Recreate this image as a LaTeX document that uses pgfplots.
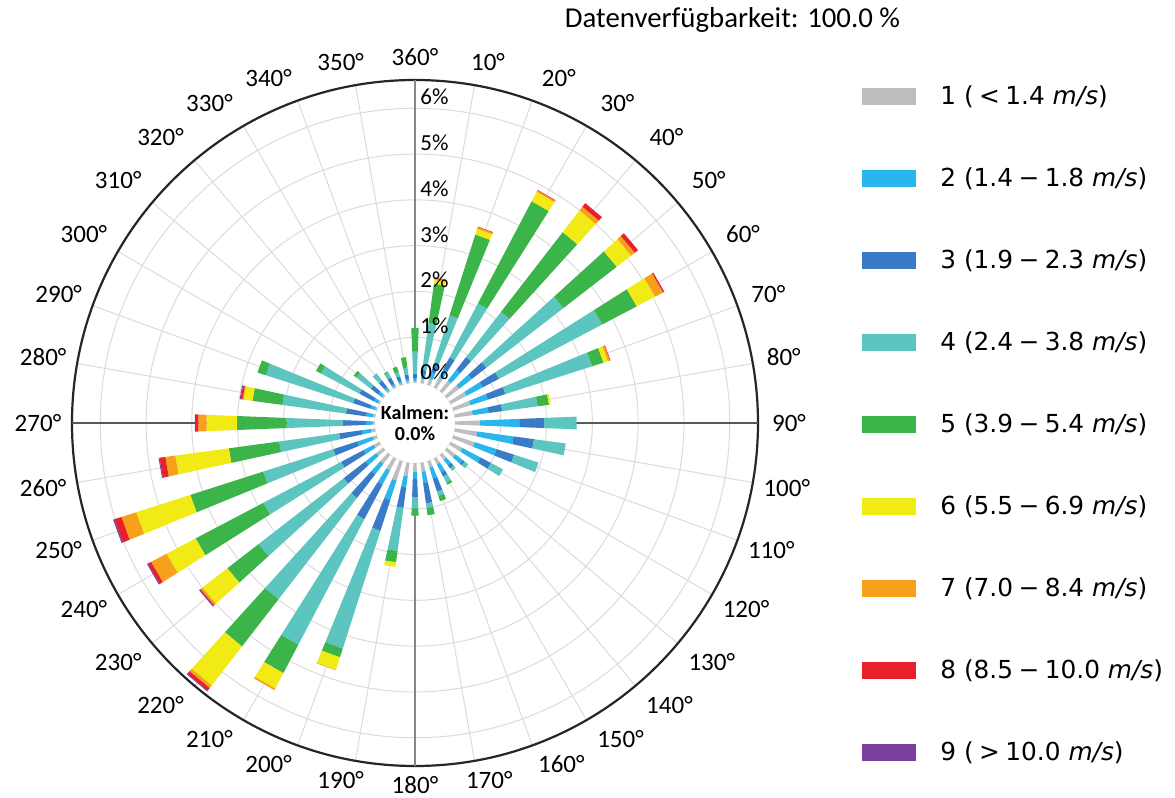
\documentclass[border=0pt]{standalone}
\usepackage{fontspec}
\setmainfont{Carlito}
\newfontfamily\legfont{DejaVu Sans}
\usepackage{pgfplots}
\usepackage{pgfplotstable}
\pgfplotsset{compat=1.18}
\usepgfplotslibrary{polar}

\definecolor{wc1}{HTML}{BEBEBE}
\definecolor{wc2}{HTML}{29B6EC}
\definecolor{wc3}{HTML}{3A7BC8}
\definecolor{wc4}{HTML}{5CC5BF}
\definecolor{wc5}{HTML}{3BB54A}
\definecolor{wc6}{HTML}{F2EA15}
\definecolor{wc7}{HTML}{F7A11A}
\definecolor{wc8}{HTML}{E8202A}
\definecolor{wc9}{HTML}{7B3F9E}

% frequency (%) per direction and speed class
\pgfplotstableread{
dir s1 s2 s3 s4 s5 s6 s7 s8 s9
10 0.10 0.10 0.10 1.04 0.86 0.08 0.04 0.01 0
20 0.15 0.15 0.20 1.10 1.85 0.13 0.04 0.01 0
30 0.25 0.20 0.30 1.33 2.52 0.23 0.04 0.01 0
40 0.30 0.30 0.35 1.25 2.20 0.60 0.10 0.10 0
50 0.35 0.35 0.40 2.13 1.47 0.40 0.10 0.09 0
60 0.40 0.40 0.40 2.55 0.85 0.45 0.20 0.03 0
70 0.40 0.40 0.40 1.99 0.26 0.10 0.05 0.01 0
80 0.40 0.35 0.30 0.78 0.25 0.04 0 0 0
90 0.55 0.87 0.53 0.71 0 0 0 0 0
100 0.50 0.80 0.45 0.70 0 0 0 0 0
110 0.50 0.50 0.40 0.56 0 0 0 0 0
120 0.30 0.45 0.25 0.30 0 0 0 0 0
130 0.25 0.20 0.05 0.10 0 0 0 0 0
140 0.15 0.15 0.08 0.07 0 0 0 0 0
150 0.15 0.20 0.10 0.15 0.05 0 0 0 0
160 0.15 0.25 0.30 0.10 0.12 0 0 0 0
170 0.20 0.25 0.45 0.10 0.16 0 0 0 0
180 0.20 0.15 0.40 0.25 0.15 0 0 0 0
190 0.30 0.25 0.45 0.95 0.25 0.10 0 0 0
200 0.45 0.45 0.70 2.70 0.20 0.29 0.01 0 0
210 0.30 0.35 0.85 3.10 0.70 0.38 0.04 0 0
220 0.25 0.30 0.65 2.80 1.30 1.08 0.07 0.07 0.02
230 0.20 0.30 0.60 2.35 0.86 0.69 0.05 0.02 0.02
240 0.15 0.25 0.55 1.92 1.67 0.72 0.38 0.08 0.02
250 0.10 0.35 0.55 1.61 1.67 1.24 0.34 0.16 0.03
260 0.10 0.20 0.50 1.32 1.11 1.18 0.22 0.13 0.02
270 0.05 0.15 0.50 1.23 1.09 0.66 0.18 0.07 0.01
280 0.05 0.15 0.45 1.40 0.66 0.19 0.03 0.04 0.02
290 0.05 0.10 0.40 2.00 0.19 0 0 0 0
300 0.05 0.10 0.35 0.95 0.12 0 0 0 0
310 0.05 0.10 0.20 0.40 0.07 0 0 0 0
320 0.05 0.07 0.18 0.20 0 0 0 0 0
330 0.05 0.05 0.15 0.13 0.02 0 0 0 0
340 0.05 0.05 0.10 0.10 0.12 0 0 0 0
350 0.05 0.05 0.10 0.15 0.23 0 0 0 0
360 0.05 0.05 0.10 0.50 0.50 0 0 0 0
}\windtable

\def\hole{0.873}
\def\halfw{2.25}
\newcommand\msp{\hspace{0.22em}}

\begin{document}
\begin{tikzpicture}
\begin{polaraxis}[
  at={(0,0)}, anchor=origin,
  scale only axis, width=343pt, height=343pt,
  xmin=0, xmax=360, ymin=0, ymax=7.49,
  xtick={0,10,...,350},
  xticklabels={90°,80°,70°,60°,50°,40°,30°,20°,10°,360°,350°,340°,330°,320°,310°,300°,290°,280°,270°,260°,250°,240°,230°,220°,210°,200°,190°,180°,170°,160°,150°,140°,130°,120°,110°,100°},
  ytick={0.873,1.873,2.873,3.873,4.873,5.873,6.873},
  yticklabels={},
  grid=major,
  major grid style={draw=black!14, line width=0.5pt},
  axis line style={draw=black!85, line width=1.1pt},
  tick style={draw=none},
  xticklabel style={font=\fontsize{12.5}{15}\selectfont, inner sep=0pt, anchor=center,
    xshift={max(-1,min(1,2.5*cos(\tick)))*((\tick<85)?15.5:17)*1pt},
    yshift={max(-1,min(1,1.5*sin(\tick)))*((sin(\tick)>0)?11.5:9.6)*1pt}},
  legend image code/.code={\fill[#1] (0pt,-4.25pt) rectangle (27pt,4.25pt);},
  legend style={draw=none, fill=none, at={(axis description cs:1.1516,0.9987)}, anchor=north west,
    font=\legfont\fontsize{12.4}{14}\selectfont, row sep=26.1pt, inner sep=0pt,
    /tikz/every odd column/.append style={column sep=10pt}},
  legend cell align=left,
]
% cross lines
\addplot[draw=gray!95, line width=0.9pt, forget plot] coordinates {(90,7.49) (270,7.49)};
\addplot[draw=black!65, line width=0.9pt, forget plot] coordinates {(0,7.49) (180,7.49)};

% stacked wedge bars
\foreach \r in {0,...,35}{%
  \pgfplotstablegetelem{\r}{dir}\of\windtable
  \pgfmathsetmacro\wa{90-\pgfplotsretval-\halfw}%
  \pgfmathsetmacro\wb{90-\pgfplotsretval+\halfw}%
  \xdef\wlo{\hole}%
  \foreach \k in {1,...,9}{%
    \pgfplotstablegetelem{\r}{s\k}\of\windtable
    \let\wv\pgfplotsretval
    \ifdim\wv pt>0pt
      \pgfmathsetmacro\whi{\wlo+\wv}%
      \edef\tmp{\noexpand\addplot[draw=none, fill=wc\k, forget plot] coordinates {(\wa,\wlo) (\wb,\wlo) (\wb,\whi) (\wa,\whi)};}%
      \tmp
      \xdef\wlo{\whi}%
    \fi
  }%
}

\addlegendimage{fill=wc1, draw=none}
\addlegendentry{1 (\msp<\msp1.4 \textit{m/s})}
\addlegendimage{fill=wc2, draw=none}
\addlegendentry{2 (1.4\msp−\msp1.8 \textit{m/s})}
\addlegendimage{fill=wc3, draw=none}
\addlegendentry{3 (1.9\msp−\msp2.3 \textit{m/s})}
\addlegendimage{fill=wc4, draw=none}
\addlegendentry{4 (2.4\msp−\msp3.8 \textit{m/s})}
\addlegendimage{fill=wc5, draw=none}
\addlegendentry{5 (3.9\msp−\msp5.4 \textit{m/s})}
\addlegendimage{fill=wc6, draw=none}
\addlegendentry{6 (5.5\msp−\msp6.9 \textit{m/s})}
\addlegendimage{fill=wc7, draw=none}
\addlegendentry{7 (7.0\msp−\msp8.4 \textit{m/s})}
\addlegendimage{fill=wc8, draw=none}
\addlegendentry{8 (8.5\msp−\msp10.0 \textit{m/s})}
\addlegendimage{fill=wc9, draw=none}
\addlegendentry{9 (\msp>\msp10.0 \textit{m/s})}

% calm circle
\fill[white] (axis cs:0,0) circle[radius=20pt];
\node[align=center, font=\bfseries\fontsize{10}{10.5}\selectfont, inner sep=0pt] at (axis cs:0,0) {Kalmen:\\0.0\%};

% radial labels
\begin{scope}[every node/.style={anchor=south west, inner sep=0pt, xshift=2.5pt, yshift=1.5pt, font=\fontsize{11.5}{13}\selectfont}]
\node at (axis cs:90,0.873) {0\%};
\node at (axis cs:90,1.873) {1\%};
\node at (axis cs:90,2.873) {2\%};
\node at (axis cs:90,3.873) {3\%};
\node at (axis cs:90,4.873) {4\%};
\node at (axis cs:90,5.873) {5\%};
\node at (axis cs:90,6.873) {6\%};
\end{scope}
\end{polaraxis}
\node[font=\fontsize{14.4}{17}\selectfont] at (158.75pt,201.5pt) {Datenverfügbarkeit: 100.0 \%};
\pgfresetboundingbox
\useasboundingbox (-207.5pt,-187.5pt) rectangle (380pt,211.5pt);
\end{tikzpicture}
\end{document}
